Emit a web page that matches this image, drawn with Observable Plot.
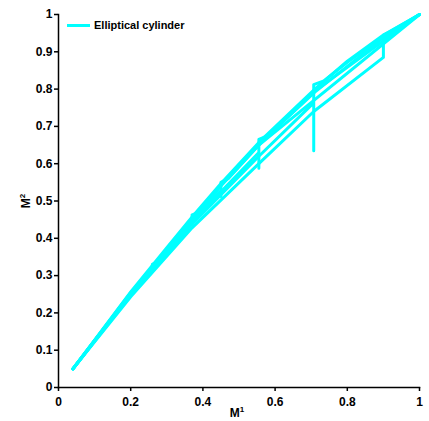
<!DOCTYPE html>
<html>
<head>
<meta charset="utf-8">
<script src="https://cdn.jsdelivr.net/npm/d3@7"></script>
<script src="https://cdn.jsdelivr.net/npm/@observablehq/plot@0.6"></script>
<style>
  html, body { margin: 0; padding: 0; background: #fff; }
  #wrap { position: relative; width: 429px; height: 421px; font-family: "Liberation Sans", Arial, sans-serif; }
  #legend { position: absolute; left: 67px; top: 19px; display: flex; align-items: center; font: bold 11px "Liberation Sans", Arial, sans-serif; color: #000; }
  #legend .sw { width: 23px; height: 3px; background: #00FFFF; margin-right: 4px; }
</style>
</head>
<body>
<div id="wrap">
  <div id="legend"><span class="sw"></span><span>Elliptical cylinder</span></div>
</div>
<script>
// Series: each pass of the curve, as [x, y] pairs
const seriesName = "Elliptical cylinder";
const pass1 = [[0.04,0.05],[0.1,0.127],[0.2,0.256],[0.3,0.375],[0.37,0.457],[0.45,0.547],[0.555,0.657],[0.71,0.8],[0.8,0.875],[0.9,0.945],[1,1]];
const pass2 = [[0.04,0.05],[0.2,0.243],[0.37,0.428],[0.555,0.6],[0.707,0.74],[0.9,0.885],[0.9,0.945],[0.92,0.955],[1,1]];
const pass3 = [[0.04,0.05],[0.2,0.248],[0.37,0.438],[0.555,0.62],[0.707,0.763],[0.707,0.635],[0.707,0.812],[0.735,0.822],[0.8,0.872],[0.9,0.94],[1,1]];
const pass4 = [[0.04,0.05],[0.2,0.25],[0.37,0.445],[0.555,0.63],[0.555,0.588],[0.555,0.665],[0.58,0.675],[0.71,0.792],[0.9,0.938],[1,1]];
const pass5 = [[0.04,0.05],[0.2,0.252],[0.37,0.45],[0.45,0.528],[0.45,0.512],[0.45,0.55],[0.47,0.56],[0.555,0.65],[0.71,0.795],[1,1]];
const pass6 = [[0.04,0.05],[0.2,0.254],[0.37,0.445],[0.37,0.438],[0.37,0.463],[0.39,0.47],[0.45,0.54],[0.555,0.65],[1,1]];
const pass7 = [[0.04,0.05],[0.2,0.252],[0.32,0.385],[0.32,0.395],[0.34,0.405],[0.37,0.452]];
const pass8 = [[0.04,0.05],[0.2,0.25],[0.26,0.318],[0.26,0.33],[0.28,0.34],[0.32,0.39]];
const passes = [pass1, pass2, pass3, pass4, pass5, pass6, pass7, pass8];
const xTicks = [0, 0.2, 0.4, 0.6, 0.8, 1];
const yTicks = [0, 0.1, 0.2, 0.3, 0.4, 0.5, 0.6, 0.7, 0.8, 0.9, 1];

const data = passes.flatMap((p, i) => p.map(([x, y]) => ({x, y, pass: i})));

const chart = Plot.plot({
  width: 429,
  height: 421,
  marginLeft: 58,
  marginRight: 10,
  marginTop: 14,
  marginBottom: 34,
  style: {fontFamily: "'Liberation Sans', Arial, sans-serif", fontSize: "12px", fontWeight: "bold", color: "#000", background: "transparent"},
  x: {domain: [0, 1]},
  y: {domain: [0, 1]},
  marks: [
    Plot.frame({anchor: "left", stroke: "#000", strokeWidth: 1.5}),
    Plot.frame({anchor: "bottom", stroke: "#000", strokeWidth: 1.5}),
    Plot.axisX({ticks: xTicks, tickSize: 4, tickPadding: 6, tickFormat: d => String(d), label: null, strokeWidth: 1.5}),
    Plot.axisY({ticks: yTicks, tickSize: 4, tickPadding: 2, tickFormat: d => String(d), label: null, strokeWidth: 1.5}),
    Plot.line(data, {x: "x", y: "y", z: "pass", stroke: "#00FFFF", strokeWidth: 3, strokeLinejoin: "round", strokeLinecap: "round", curve: "linear"})
  ]
});
document.getElementById("wrap").prepend(chart);
chart.style.position = "absolute";
chart.style.left = "0";
chart.style.top = "0";

// Axis titles with real superscripts
const svg = d3.select(chart);
const xl = svg.append("text")
  .attr("x", 237).attr("y", 417)
  .attr("text-anchor", "middle")
  .attr("font-size", 12).attr("font-weight", "bold").attr("fill", "#000");
xl.append("tspan").text("M");
xl.append("tspan").attr("font-size", 8).attr("dy", -5).text("1");
const yl = svg.append("text")
  .attr("transform", "translate(30,201) rotate(-90)")
  .attr("text-anchor", "middle")
  .attr("font-size", 12).attr("font-weight", "bold").attr("fill", "#000");
yl.append("tspan").text("M");
yl.append("tspan").attr("font-size", 8).attr("dy", -5).text("2");
</script>
</body>
</html>
